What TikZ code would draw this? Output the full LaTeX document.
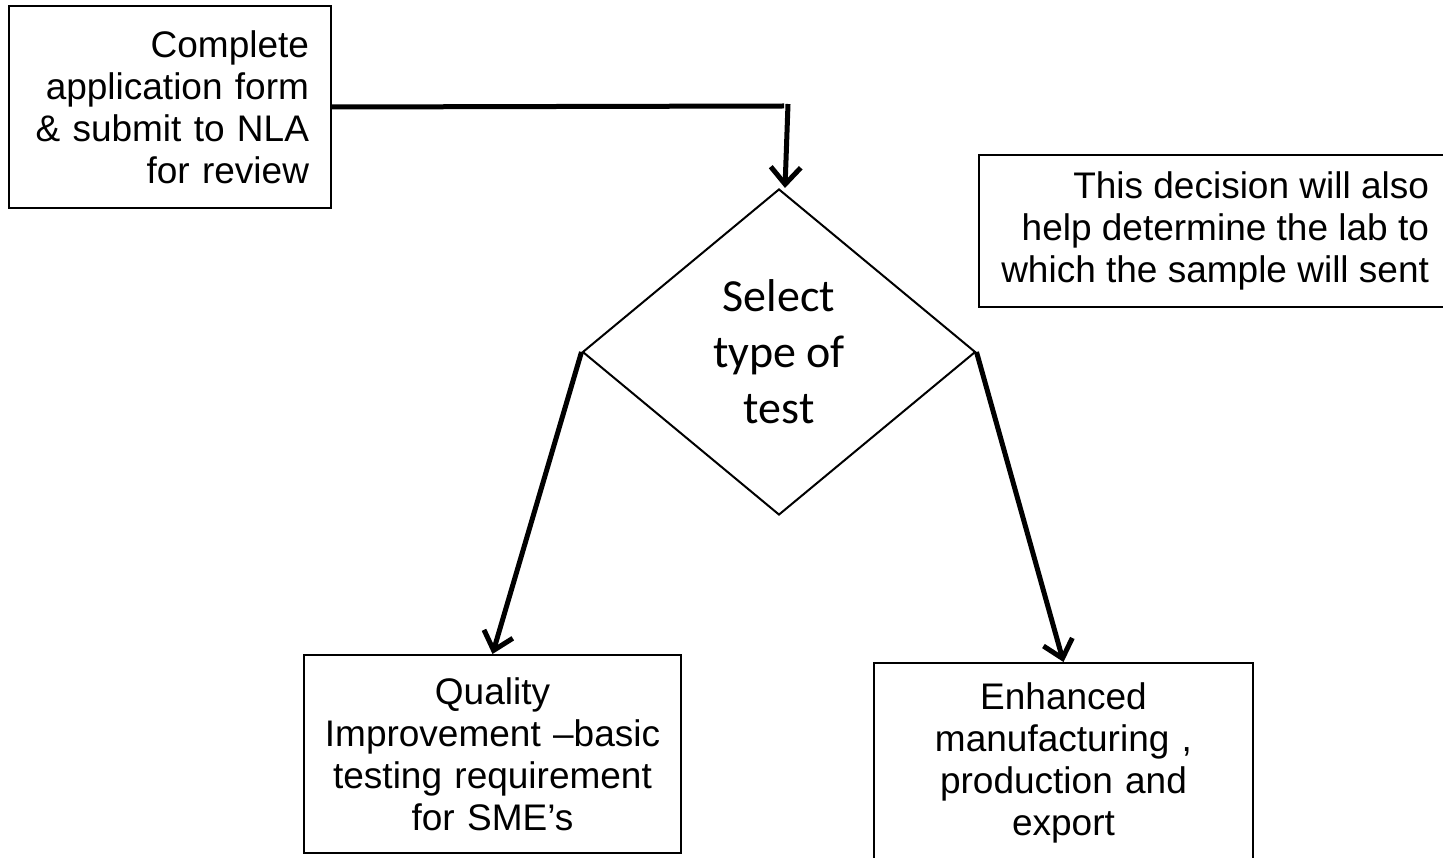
\documentclass[tikz,border=0pt]{standalone}
\usepackage{fontspec}
\setmainfont{Liberation Sans}
\newfontfamily\califont{Carlito}
\usetikzlibrary{arrows.meta,shapes.geometric}
\begin{document}
\begin{tikzpicture}[x=1pt,y=-1pt,
  box/.style={draw, line width=2pt, inner sep=0pt, font=\fontsize{37}{42}\selectfont},
  conn/.style={line width=5pt},
  arr/.style={line width=5pt, -{Straight Barb[length=17pt,width=30pt]}},
  decision/.style={draw, diamond, line width=2pt, inner sep=0pt, minimum width=393pt, minimum height=326pt, font=\califont\fontsize{46}{56}\selectfont, align=center},
]
\useasboundingbox (0,0) rectangle (1443,858);
\node[box, minimum width=322pt, minimum height=202pt, text width=278pt, align=right, anchor=north west] (app) at (8,5) {Complete\\application form\\\& submit to NLA\\for review};
\node[box, minimum height=152pt, inner xsep=22pt, align=right, anchor=north east] (note) at (1452,154) {This decision will also\\help determine the lab to\\which the sample will sent};
\node[decision] (dec) at (779,352) {Select\\type of\\test};
\node[box, minimum width=377pt, minimum height=198pt, text width=360pt, align=center, anchor=north west] (qi) at (303,654) {Quality\\Improvement –basic\\testing requirement\\for SME’s};
\node[box, minimum width=379pt, minimum height=200pt, text width=360pt, align=center, anchor=north west] (em) at (873,662) {Enhanced\\manufacturing ,\\production and\\export};
\coordinate (c1) at (784,106);
\coordinate (c2) at (788,104);
\draw[conn] (app.east) -- (c1);
\draw[arr] (c2) -- ([xshift=6pt]dec.north);
\draw[arr] (dec.west) -- (qi.north);
\draw[arr] (dec.east) -- (em.north);
\end{tikzpicture}
\end{document}
